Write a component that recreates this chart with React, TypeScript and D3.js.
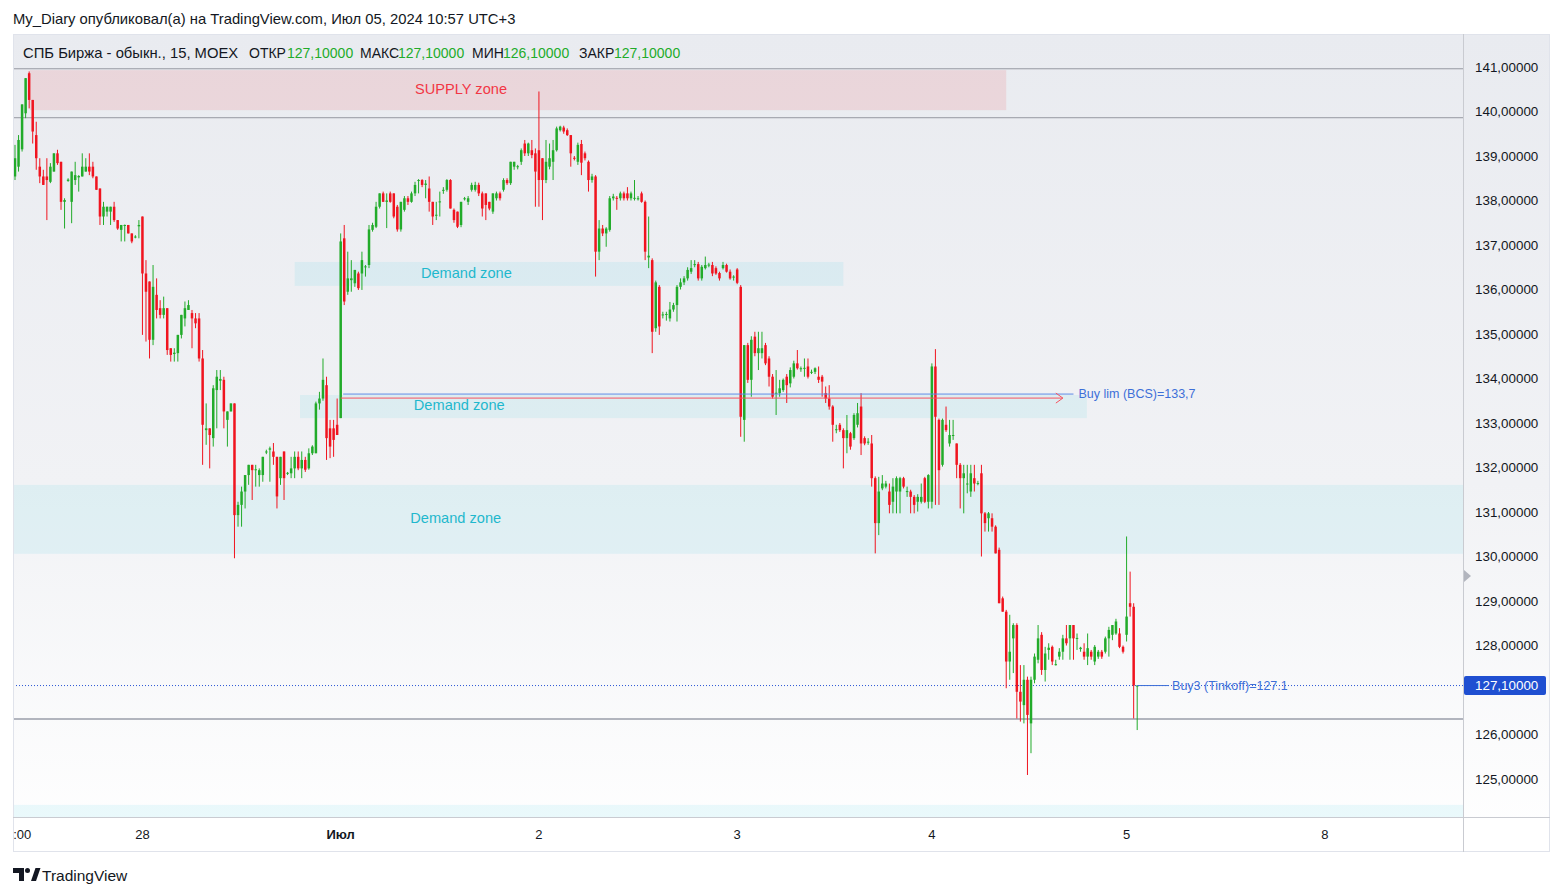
import React from "react";
import * as d3 from "d3";

type C = [number, number, number, number]; // open, high, low, close

// ---- 15-minute candles, one array per trading day ----
const jun27: C[] = [
  [138.54,139.25,138.46,138.95],[138.76,139.47,138.65,139.36],[139.15,140.16,139.10,140.16],[139.96,140.75,139.85,140.75],
  [140.86,140.90,140.07,140.26],[140.26,140.26,139.28,139.55],[139.47,139.77,138.69,138.95],[138.76,138.95,138.39,138.54],
  [138.54,138.69,138.35,138.35],[138.54,138.95,137.56,138.46],[138.42,138.84,138.39,138.76],[138.65,139.06,138.65,139.06],
  [139.06,139.14,138.80,138.84],[138.87,138.87,137.79,137.97],[137.97,138.05,137.37,138.01],[138.44,138.50,138.42,138.47],
  [137.97,138.65,137.49,138.65],[138.46,138.87,138.35,138.57],[138.52,138.57,138.20,138.55],[138.54,139.06,138.54,138.76],
  [138.65,138.95,138.65,138.76],[138.76,139.06,138.57,138.65],[138.76,138.87,138.50,138.54],[138.54,138.54,138.24,138.24],
  [138.27,138.27,137.45,137.64],[137.64,137.97,137.45,137.86],[137.75,137.86,137.64,137.86],[137.75,137.86,137.45,137.86],
  [137.86,137.97,137.52,137.56],[137.56,137.56,137.34,137.37],[137.34,137.45,137.08,137.45],[137.45,137.46,137.08,137.45],
  [137.45,137.45,137.26,137.26],[137.26,137.26,137.04,137.08],[137.17,137.22,137.15,137.19],[137.42,137.56,137.15,137.45],
];
const jun28: C[] = [
  [137.64,137.64,134.98,136.36],[136.36,136.66,134.83,135.95],[136.18,136.18,134.45,134.87],[134.87,136.55,134.75,136.06],
  [135.88,136.25,135.35,135.54],[135.58,135.76,135.35,135.43],[135.43,135.84,135.35,135.58],[135.58,135.58,134.53,134.64],
  [134.68,134.68,134.38,134.53],[134.55,134.68,134.38,134.58],[134.57,134.98,134.38,134.98],[134.98,135.43,134.90,135.43],
  [135.35,135.73,135.17,135.58],[135.54,135.76,135.54,135.65],[135.47,135.54,134.68,135.35],[135.35,135.47,135.13,135.24],
  [135.35,135.47,134.38,134.45],[134.45,134.64,132.06,132.96],[132.84,133.44,132.51,132.88],[132.88,132.88,131.98,132.73],
  [132.66,133.85,132.47,133.78],[133.74,134.19,132.88,134.04],[133.95,134.19,133.74,133.99],[133.97,134.04,132.88,133.26],
  [133.07,133.26,132.47,133.26],[133.26,133.44,133.26,133.44],[133.44,133.44,129.96,130.93],[130.93,131.23,130.67,131.16],
  [131.16,131.57,130.67,131.46],[131.46,131.83,131.08,131.83],[131.83,132.06,131.61,132.06],[132.06,132.06,131.27,131.94],
  [131.95,132.06,131.57,131.96],[131.83,131.98,131.57,131.94],[131.83,132.24,131.68,132.24],[132.35,132.40,132.30,132.36],
  [132.40,132.47,131.68,132.43],[132.36,132.55,132.06,132.24],[132.24,132.24,131.08,131.35],[131.76,132.24,131.61,132.24],
  [132.36,132.36,131.27,131.76],[131.86,131.90,131.83,131.88],[131.87,132.24,131.76,131.98],[131.98,132.36,131.76,132.24],
  [132.24,132.36,131.94,131.98],[131.98,132.36,131.76,132.17],[132.17,132.24,131.90,131.95],[131.98,132.43,131.95,132.32],
  [132.32,132.50,132.28,132.47],[132.32,133.48,132.32,133.44],[133.44,133.70,133.30,133.55],[133.55,134.45,133.50,133.97],
  [133.85,134.04,132.17,132.66],[132.88,133.07,132.21,132.47],[132.88,133.07,132.24,132.62],[132.96,133.55,132.73,132.73],
];
const jul1: C[] = [
  [133.11,137.26,133.11,137.08],[137.15,137.45,135.65,135.73],[135.95,136.85,135.88,136.25],[136.21,136.66,135.95,136.25],
  [136.14,136.44,136.06,136.44],[136.36,136.40,135.99,136.03],[136.36,136.85,135.99,136.66],[136.50,136.55,136.29,136.52],
  [136.55,137.45,136.48,137.35],[137.34,137.50,137.30,137.45],[137.41,137.97,137.38,137.86],[137.86,138.16,137.82,138.16],
  [138.16,138.20,137.97,137.97],[137.97,138.16,137.38,138.00],[138.16,138.20,137.95,137.97],[138.16,138.16,137.60,137.64],
  [137.86,137.90,137.30,137.35],[137.35,137.97,137.30,137.97],[137.79,138.10,137.75,138.05],[138.05,138.10,137.90,137.97],
  [137.97,138.20,137.95,138.16],[138.16,138.42,138.10,138.35],[138.44,138.48,138.16,138.46],[138.46,138.48,138.30,138.35],
  [138.35,138.46,138.05,138.38],[138.27,138.54,137.75,137.97],[137.97,137.97,137.45,137.64],[137.66,137.97,137.56,137.68],
  [137.96,138.20,137.64,137.98],[138.22,138.30,138.15,138.24],[138.24,138.48,138.20,138.46],[138.46,138.48,137.82,137.82],
  [137.79,137.82,137.50,137.56],[137.75,137.75,137.38,137.41],[137.45,137.97,137.40,137.97],[138.04,138.08,138.00,138.05],
  [137.97,138.10,137.90,138.05],[138.24,138.40,138.20,138.35],[138.24,138.42,138.20,138.35],[138.35,138.40,138.10,138.16],
  [138.16,138.20,137.64,137.82],[138.16,138.16,137.56,137.90],[137.97,137.97,137.78,137.82],[137.75,138.16,137.70,138.16],
  [138.05,138.20,138.00,138.16],[138.16,138.20,138.00,138.05],[138.24,138.50,138.20,138.46],[138.46,138.50,138.35,138.39],
  [138.39,138.87,138.35,138.87],[138.76,138.87,138.69,138.87],[138.75,138.80,138.70,138.77],[138.87,139.17,138.80,139.13],
  [139.28,139.36,139.00,139.06],[139.06,139.30,139.00,139.28],[139.13,139.36,138.95,139.02],[139.06,139.17,137.86,138.65],
];
const jul2: C[] = [
  [139.13,140.45,137.86,138.46],[138.95,138.95,137.56,138.46],[138.46,139.36,138.39,138.87],[138.76,139.28,138.70,138.95],
  [138.87,139.36,138.46,139.13],[139.13,139.66,139.10,139.62],[139.58,139.68,139.55,139.66],[139.64,139.68,139.50,139.55],
  [139.58,139.62,139.45,139.47],[139.47,139.47,138.76,139.06],[138.96,139.00,138.90,138.95],[138.87,139.30,138.80,139.25],
  [139.27,139.36,138.57,138.85],[139.06,139.10,138.90,138.95],[138.87,138.90,138.20,138.46],[138.46,138.60,138.40,138.54],
  [138.54,138.57,136.29,136.85],[136.85,137.56,136.66,137.37],[137.37,137.45,137.20,137.26],[137.26,137.40,136.96,137.37],
  [137.34,138.10,137.30,138.05],[138.05,138.15,138.00,138.09],[138.06,138.10,137.79,138.05],[138.05,138.20,138.00,138.16],
  [138.16,138.20,138.00,138.05],[138.16,138.30,138.00,138.05],[138.05,138.20,138.00,138.16],[138.05,138.46,138.00,138.06],
  [138.05,138.10,138.00,138.05],[138.16,138.20,137.95,137.97],[137.97,138.00,136.66,136.85],[136.72,137.64,136.48,136.76],
  [136.66,136.70,134.57,135.05],[135.13,136.20,135.05,136.16],[136.06,136.10,134.98,135.17],[135.42,135.50,135.35,135.44],
  [135.44,135.50,135.30,135.45],[135.35,135.72,135.28,135.55],[135.55,135.70,135.50,135.65],[135.65,136.10,135.28,136.06],
  [136.06,136.25,136.00,136.16],[136.16,136.30,136.10,136.25],[136.25,136.50,136.20,136.44],[136.40,136.66,136.35,136.48],
  [136.56,136.66,136.50,136.57],[136.57,136.62,136.20,136.25],[136.25,136.55,136.20,136.51],[136.48,136.74,136.45,136.55],
  [136.55,136.60,136.50,136.56],[136.55,136.62,136.30,136.36],[136.48,136.52,136.33,136.36],[136.37,136.40,136.20,136.25],
  [136.48,136.62,136.45,136.55],[136.55,136.58,136.38,136.40],[136.40,136.45,136.22,136.25],[136.28,136.32,136.20,136.29],
];
const jul3: C[] = [
  [136.45,136.48,136.12,136.15],[136.06,136.10,132.69,133.14],[133.07,134.75,132.58,134.75],[134.75,134.80,133.90,133.97],
  [133.97,134.95,133.59,134.87],[134.94,135.05,134.50,134.57],[134.57,135.05,134.19,134.68],[134.57,135.05,134.45,134.68],
  [134.75,134.80,134.30,134.34],[134.45,134.50,133.82,134.04],[134.04,134.10,133.55,133.59],[133.67,134.19,133.18,133.68],
  [133.67,133.97,133.59,133.78],[133.74,134.00,133.70,133.97],[134.04,134.10,133.45,133.85],[133.89,134.25,133.80,134.19],
  [134.04,134.40,134.00,134.34],[134.34,134.64,134.20,134.23],[134.22,134.27,134.15,134.23],[134.22,134.45,134.04,134.24],
  [134.27,134.45,134.00,134.04],[134.14,134.20,134.10,134.15],[134.15,134.25,134.10,134.23],[134.04,134.27,133.90,133.97],
  [134.04,134.08,133.59,133.93],[133.67,133.82,133.45,133.55],[133.55,133.85,133.30,133.37],[133.37,133.40,132.58,132.96],
  [132.85,132.96,132.77,132.86],[132.96,133.00,132.80,132.84],[132.84,132.88,131.98,132.66],[132.66,133.18,132.32,132.84],
  [132.77,132.80,132.40,132.47],[132.66,133.22,132.62,133.18],[132.96,133.45,132.90,133.22],[133.37,133.67,132.28,132.54],
  [132.66,132.70,132.50,132.54],[132.57,132.66,132.51,132.58],[132.54,132.73,131.57,131.76],[131.76,131.80,130.07,130.75],
  [130.75,131.79,130.48,131.46],[131.53,131.83,131.49,131.64],[131.57,131.70,131.53,131.64],[131.46,131.64,130.97,131.16],
  [131.23,131.76,130.97,131.57],[131.46,131.80,130.97,131.76],[131.46,131.79,130.97,131.76],[131.76,131.79,131.53,131.57],
  [131.46,131.57,131.34,131.47],[131.46,131.50,130.97,131.34],[131.34,131.38,130.97,131.16],[131.23,131.40,131.01,131.34],
  [131.23,131.64,131.19,131.34],[131.76,131.79,131.20,131.23],[131.23,131.85,131.08,131.83],
];
const jul4: C[] = [
  [131.23,134.34,131.08,134.27],[134.27,134.66,131.16,133.14],[133.07,133.10,131.16,131.94],[132.06,133.10,132.02,133.07],
  [132.96,133.37,132.80,132.84],[132.54,133.07,132.47,132.73],[132.72,133.07,132.62,132.73],[132.54,132.54,131.76,132.06],
  [132.06,132.10,131.08,131.76],[131.76,132.06,130.97,131.87],[131.63,132.06,131.42,131.64],[131.46,132.06,131.34,131.87],
  [131.76,132.06,131.46,131.64],[131.64,131.70,131.60,131.65],[131.87,132.06,130.00,130.97],[130.97,131.00,130.56,130.75],
  [130.86,131.00,130.56,130.97],[130.86,130.97,130.56,130.67],[130.67,130.70,130.07,130.07],[130.15,130.20,128.95,128.95],
  [129.06,129.10,128.76,128.76],[128.76,128.80,127.04,127.64],[127.64,128.69,127.23,127.86],[128.16,128.50,127.38,128.46],
  [128.46,128.50,126.36,126.96],[126.96,127.56,126.29,126.74],[126.66,127.56,126.25,127.23],[127.23,127.30,125.09,126.44],
  [126.25,127.30,125.58,127.23],[127.23,127.82,127.15,127.75],[127.68,128.46,127.60,128.16],[128.24,128.30,127.34,127.45],
  [127.45,127.97,127.19,127.82],[127.90,128.05,127.68,127.95],[127.97,128.00,127.56,127.64],[127.57,127.68,127.55,127.58],
  [127.75,127.94,127.68,127.86],[127.86,128.24,127.68,128.16],[128.16,128.46,128.00,128.05],[128.16,128.46,127.68,128.46],
  [128.46,128.46,127.68,128.16],[128.15,128.27,127.90,128.17],[127.92,127.97,127.86,127.95],[127.86,128.05,127.68,127.75],
  [127.75,128.27,127.56,127.94],[127.86,127.90,127.68,127.75],[127.64,128.01,127.56,127.97],[127.75,127.90,127.70,127.86],
  [127.86,127.90,127.70,127.75],[127.86,128.20,127.82,128.16],[128.16,128.42,127.75,128.35],[128.24,128.46,128.12,128.46],
  [128.27,128.60,128.24,128.54],[128.27,128.39,127.94,127.97],[127.97,128.00,127.82,127.86],
];
const jul5: C[] = [
  [128.24,130.45,128.09,128.65],[128.95,129.66,128.65,128.87],[128.87,128.95,126.36,127.10],[127.10,127.10,126.10,127.10],
];

// ---- axis ticks ----
const priceTicks = [125,126,127,128,129,130,131,132,133,134,135,136,137,138,139,140,141];
const timeTicks: { i: number; label: string; bold?: boolean }[] = [
  { i: 0, label: "18:00" }, { i: 36, label: "28" }, { i: 92, label: "Июл", bold: true },
  { i: 148, label: "2" }, { i: 204, label: "3" }, { i: 259, label: "4" }, { i: 314, label: "5" }, { i: 370, label: "8" },
];

// ---- drawings ----
const zones = [
  { label: "SUPPLY zone", from: 4.2, to: 280, top: 140.93, bottom: 140.03, at: 126, kind: "supply" },
  { label: "Demand zone", from: 79, to: 234, top: 136.62, bottom: 136.08, at: 127.5, kind: "demand" },
  { label: "Demand zone", from: 80.5, to: 302.8, top: 133.63, bottom: 133.11, at: 125.5, kind: "demand" },
  { label: "Demand zone", from: -20, to: 600, top: 131.61, bottom: 130.06, at: 124.5, kind: "demand" },
  { label: "", from: -20, to: 600, top: 124.42, bottom: 123.0, at: 0, kind: "demand" },
];
const hLines = [
  { price: 140.96, width: 1, color: "#9598a1" },
  { price: 139.86, width: 1, color: "#9598a1" },
  { price: 126.35, width: 2, color: "#b2b5be" },
];
const buyLim = { price: 133.65, from: 92.7, to: 299, text: "Buy lim (BCS)=133,7" };
const arrowLine = { price: 133.56, from: 92, to: 296 };
const buy3 = { price: 127.1, from: 317, to: 326, text: "Buy3 (Tinkoff)=127.1" };
const axisMarker = 129.56;

const UP = "#22ab2a";
const DOWN = "#f0141f";
const FONT = "'Liberation Sans', Arial, sans-serif";

const fmt = (v: number) => d3.format(".5f")(v).replace(".", ",");

export default function App() {
  const candles: C[] = [...jun27, ...jun28, ...jul1, ...jul2, ...jul3, ...jul4, ...jul5];
  const W = 1563, H = 896;
  const paneL = 13, paneR = 1463, paneT = 34, paneB = 817, axisR = 1550, axisB = 852;
  const x = d3.scaleLinear().domain([0, 317]).range([15, 1137.2]);
  const y = d3.scaleLinear().domain([125, 141]).range([779, 67]);
  const last = candles[candles.length - 1];
  const lastY = y(last[3]);
  const bw = 2.5;

  return (
    <svg width={W} height={H} style={{ position: "absolute", left: 0, top: 0 }} fontFamily={FONT}>
      <defs>
        <linearGradient id="bg" x1="0" y1="0" x2="0" y2="1">
          <stop offset="0" stopColor="#e9ebf0" />
          <stop offset="0.55" stopColor="#f1f2f5" />
          <stop offset="1" stopColor="#ffffff" />
        </linearGradient>
        <clipPath id="pane">
          <rect x={paneL} y={paneT} width={paneR - paneL} height={paneB - paneT} />
        </clipPath>
      </defs>
      <rect x={0} y={0} width={W} height={H} fill="#ffffff" />
      <text x={13} y={24} fontSize={14.8} fill="#131722">My_Diary опубликовал(а) на TradingView.com, Июл 05, 2024 10:57 UTC+3</text>

      {/* chart container */}
      <rect x={paneL} y={paneT} width={axisR - paneL} height={axisB - paneT} fill="url(#bg)" />
      <rect x={paneL} y={paneB} width={axisR - paneL} height={axisB - paneB} fill="#ffffff" />

      <g clipPath="url(#pane)">
        {zones.map((z, k) => (
          <g key={"z" + k}>
            <rect x={x(z.from)} y={y(z.top)} width={x(z.to) - x(z.from)} height={y(z.bottom) - y(z.top)}
              fill={z.kind === "supply" ? "rgba(242,54,69,0.12)" : "rgba(0,188,212,0.08)"} />
            {z.label && (
              <text x={x(z.at)} y={(y(z.top) + y(z.bottom)) / 2 - 1.5} dy="0.35em" textAnchor="middle" fontSize={14.6}
                fill={z.kind === "supply" ? "#f23645" : "#1fb8cd"}>{z.label}</text>
            )}
          </g>
        ))}
        {hLines.map((l, k) => (
          <line key={"h" + k} x1={paneL} x2={paneR} y1={y(l.price)} y2={y(l.price)} stroke={l.color} strokeWidth={l.width} />
        ))}
        {/* current price line */}
        <line x1={paneL} x2={paneR} y1={lastY} y2={lastY} stroke="#2a55d6" strokeWidth={1} strokeDasharray="1 2" />

        {candles.map((c, i) => {
          const [o, h, l, cl] = c;
          const cx = x(i);
          const col = cl >= o ? UP : DOWN;
          const top = y(Math.max(o, cl));
          const bh = Math.max(1, Math.abs(y(o) - y(cl)));
          return (
            <g key={i}>
              <line x1={cx} x2={cx} y1={y(h)} y2={y(l)} stroke={col} strokeWidth={1} />
              <rect x={cx - bw / 2} y={top} width={bw} height={bh} fill={col} />
            </g>
          );
        })}

        {/* buy limit line + arrow */}
        <line x1={x(buyLim.from)} x2={x(buyLim.to)} y1={y(buyLim.price)} y2={y(buyLim.price)} stroke="#5b8be6" strokeWidth={1} />
        <text x={x(buyLim.to) + 5} y={y(buyLim.price)} dy="0.35em" fontSize={12.5} fill="#3d6fd8">{buyLim.text}</text>
        <line x1={x(arrowLine.from)} x2={x(arrowLine.to)} y1={y(arrowLine.price)} y2={y(arrowLine.price)} stroke="#f7525f" strokeWidth={1} />
        <path d={`M${x(arrowLine.to) - 7},${y(arrowLine.price) - 5} L${x(arrowLine.to)},${y(arrowLine.price)} L${x(arrowLine.to) - 7},${y(arrowLine.price) + 5}`}
          fill="none" stroke="#f7525f" strokeWidth={1} />
        {/* buy3 */}
        <line x1={x(buy3.from)} x2={x(buy3.to)} y1={y(buy3.price)} y2={y(buy3.price)} stroke="#3d6fd8" strokeWidth={1} />
        <text x={x(buy3.to) + 3} y={y(buy3.price)} dy="0.35em" fontSize={12.5} fill="#3d6fd8">{buy3.text}</text>
      </g>

      {/* frame lines */}
      <rect x={paneL + 0.5} y={paneT + 0.5} width={axisR - paneL - 1} height={axisB - paneT - 1} fill="none" stroke="#e0e3eb" />
      <line x1={paneR + 0.5} x2={paneR + 0.5} y1={paneT} y2={axisB} stroke="#c9cbd1" />
      <line x1={paneL} x2={axisR} y1={paneB + 0.5} y2={paneB + 0.5} stroke="#c9cbd1" />

      {/* price axis (ticks hidden under the last-price label) */}
      {priceTicks.filter((p) => Math.abs(y(p) - lastY) > 16).map((p) => (
        <text key={"p" + p} x={1475} y={y(p)} dy="0.35em" fontSize={13.4} fill="#131722">{fmt(p)}</text>
      ))}
      <path d={`M${paneR + 1},${y(axisMarker) - 6} L${paneR + 8},${y(axisMarker)} L${paneR + 1},${y(axisMarker) + 6} Z`} fill="#b2b5be" />
      <rect x={paneR + 1} y={lastY - 9.5} width={82} height={19} rx={2} fill="#1f4fd1" />
      <text x={1475} y={lastY} dy="0.35em" fontSize={13.4} fill="#ffffff">{fmt(last[3])}</text>

      {/* time axis */}
      <clipPath id="taxis"><rect x={paneL} y={paneB} width={paneR - paneL} height={axisB - paneB} /></clipPath>
      <g clipPath="url(#taxis)">
        {timeTicks.map((t) => (
          <text key={"t" + t.i} x={x(t.i)} y={834} dy="0.35em" textAnchor="middle" fontSize={13}
            fontWeight={t.bold ? 700 : 400} fill="#131722">{t.label}</text>
        ))}
      </g>

      {/* legend */}
      <g fontSize={14} fill="#131722">
        <text x={23} y={53} dy="0.35em" fontSize={14.8}>СПБ Биржа - обыкн., 15, MOEX</text>
        <text x={249} y={53} dy="0.35em">ОТКР</text>
        <text x={287} y={53} dy="0.35em" fill={UP}>{fmt(last[0])}</text>
        <text x={360} y={53} dy="0.35em">МАКС</text>
        <text x={398} y={53} dy="0.35em" fill={UP}>{fmt(last[1])}</text>
        <text x={472} y={53} dy="0.35em">МИН</text>
        <text x={503} y={53} dy="0.35em" fill={UP}>{fmt(last[2])}</text>
        <text x={579} y={53} dy="0.35em">ЗАКР</text>
        <text x={614} y={53} dy="0.35em" fill={UP}>{fmt(last[3])}</text>
      </g>

      {/* TradingView logo */}
      <g fill="#131722">
        <path d="M13,868 h11 v13 h-5 v-8 h-6 z" />
        <circle cx={27.5} cy={870.5} r={2.5} />
        <path d="M31,881 L35.5,868 L40.5,868 L36,881 Z" />
        <text x={42} y={881} fontSize={15.5}>TradingView</text>
      </g>
    </svg>
  );
}
